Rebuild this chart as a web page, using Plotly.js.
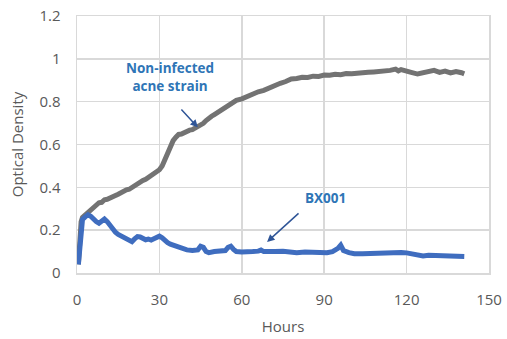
<!DOCTYPE html>
<html>
<head>
<meta charset="utf-8">
<script src="https://cdn.plot.ly/plotly-3.0.1.min.js"></script>
<style>html,body{margin:0;padding:0;background:#fff;}#chart{width:507px;height:339px;}</style>
</head>
<body>
<div id="chart"></div>
<script>
// Non-infected acne strain
const hoursNonInfected = [0.5,1,1.5,2,3,4,5,6,7,8,9,10,11,12,13,14,15,16,17,18,19,20,21,22,23,24,25,26,27,28,29,30,31,32,33,34,35,36,37,38,39,40,41,42,43,44,45,46,47,48,49,50,52,54,56,58,60,62,64,66,68,70,72,74,76,78,80,82,84,86,88,90,92,94,96,98,100,102,104,106,108,110,112,114,116,117,118,120,122,124,126,128,130,132,134,136,138,140,141];
const odNonInfected = [0.04,0.15,0.24,0.26,0.272,0.288,0.3,0.312,0.318,0.328,0.33,0.342,0.344,0.352,0.356,0.362,0.368,0.377,0.379,0.388,0.391,0.4,0.408,0.416,0.421,0.432,0.438,0.447,0.451,0.462,0.468,0.482,0.5,0.53,0.562,0.59,0.618,0.634,0.647,0.649,0.657,0.659,0.667,0.669,0.677,0.68,0.692,0.699,0.712,0.719,0.732,0.74,0.758,0.776,0.789,0.806,0.813,0.826,0.833,0.846,0.853,0.866,0.873,0.886,0.894,0.906,0.908,0.914,0.913,0.919,0.918,0.924,0.923,0.928,0.926,0.931,0.93,0.934,0.933,0.937,0.939,0.941,0.94,0.946,0.952,0.944,0.95,0.94,0.936,0.929,0.933,0.939,0.946,0.937,0.943,0.934,0.941,0.935,0.93];

// BX001
const hoursBX001 = [0.5,1,1.5,2,3,4,5,6,7,8,9,10,11,12,13,14,15,16,17,18,19,20,21,22,23,24,25,26,27,28,29,30,31,32,33,34,35,36,37,38,39,40,42,44,45,46,47,48,50,52,54,55,56,57,58,60,62,64,66,67,68,70,72,75,78,80,83,86,89,91,93,95,96,97,99,101,104,107,110,113,116,118,120,122,124,126,128,130,133,136,139,140,141];
const odBX001 = [0.04,0.14,0.22,0.25,0.262,0.272,0.265,0.25,0.24,0.232,0.242,0.252,0.24,0.222,0.202,0.19,0.18,0.172,0.165,0.156,0.15,0.146,0.16,0.17,0.168,0.16,0.155,0.158,0.154,0.16,0.168,0.172,0.164,0.15,0.142,0.135,0.13,0.125,0.12,0.115,0.11,0.108,0.105,0.108,0.125,0.12,0.1,0.095,0.1,0.1,0.105,0.12,0.125,0.11,0.1,0.098,0.097,0.1,0.102,0.107,0.1,0.098,0.1,0.102,0.097,0.095,0.098,0.096,0.093,0.095,0.1,0.115,0.13,0.105,0.095,0.09,0.09,0.092,0.09,0.095,0.098,0.096,0.094,0.088,0.085,0.08,0.083,0.082,0.083,0.081,0.08,0.078,0.077];

const xTicks = [0,30,60,90,120,150];
const yTicks = [0,0.2,0.4,0.6,0.8,1,1.2];
const yTickText = ['0','0.2','0.4','0.6','0.8','1','1.2'];

const font = 'Open Sans, Liberation Sans, sans-serif';
const traces = [
  {x: hoursNonInfected, y: odNonInfected, mode: 'lines', line: {color: '#737373', width: 5}, hoverinfo: 'skip'},
  {x: hoursBX001, y: odBX001, mode: 'lines', line: {color: '#3f6dbf', width: 5}, hoverinfo: 'skip'}
];
const layout = {
  width: 507, height: 339,
  margin: {l: 77, r: 18, t: 16, b: 66},
  paper_bgcolor: '#fff', plot_bgcolor: '#fff',
  showlegend: false,
  font: {family: font, color: '#595959', size: 15},
  xaxis: {
    range: [0,150], tickvals: xTicks, ticktext: xTicks.map(String),
    showgrid: true, gridcolor: '#d9d9d9', gridwidth: 1.5, zeroline: false,
    showline: true, linecolor: '#d9d9d9', linewidth: 1.5, mirror: true,
    ticks: '', ticklabelstandoff: 12,
    tickfont: {size: 15, color: '#595959'},
    title: {text: 'Hours', font: {size: 15, color: '#595959'}, standoff: 14}
  },
  yaxis: {
    range: [0,1.2], tickvals: yTicks, ticktext: yTickText,
    showgrid: true, gridcolor: '#d9d9d9', gridwidth: 1.5, zeroline: false,
    showline: true, linecolor: '#d9d9d9', linewidth: 1.5, mirror: true,
    ticks: '', ticklabelstandoff: 12,
    tickfont: {size: 15, color: '#595959'},
    title: {text: 'Optical Density', font: {size: 15, color: '#595959'}, standoff: 12}
  },
  annotations: [
    {x: 34, y: 0.915, xref: 'x', yref: 'y', text: '<b>Non-infected<br>acne strain</b>', showarrow: false,
     font: {size: 13.5, color: '#2e75b6', family: font}, align: 'center'},
    {x: 44, y: 0.68, xref: 'x', yref: 'y', ax: 37.5, ay: 0.77, axref: 'x', ayref: 'y', text: '',
     showarrow: true, arrowhead: 2, arrowsize: 1, arrowwidth: 1.5, arrowcolor: '#2f5597'},
    {x: 90.3, y: 0.35, xref: 'x', yref: 'y', text: '<b>BX001</b>', showarrow: false,
     font: {size: 13.5, color: '#2e75b6', family: font}},
    {x: 69.2, y: 0.145, xref: 'x', yref: 'y', ax: 81.2, ay: 0.285, axref: 'x', ayref: 'y', text: '',
     showarrow: true, arrowhead: 2, arrowsize: 1, arrowwidth: 1.5, arrowcolor: '#2f5597'}
  ]
};
Plotly.newPlot('chart', traces, layout, {staticPlot: true, displayModeBar: false});
</script>
</body>
</html>
